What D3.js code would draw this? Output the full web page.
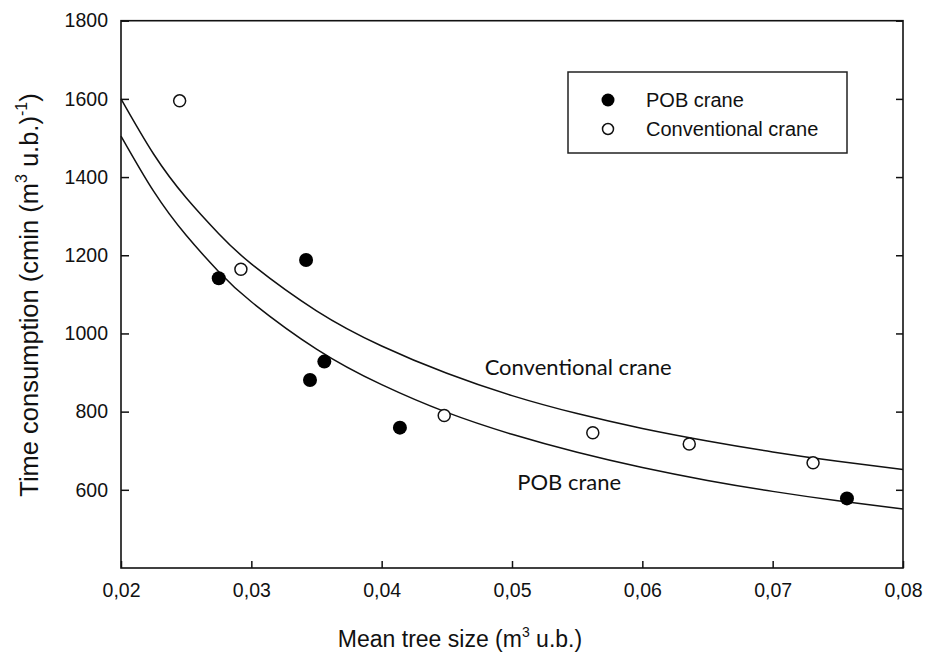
<!DOCTYPE html>
<html>
<head>
<meta charset="utf-8">
<script src="https://cdn.jsdelivr.net/npm/d3@7"></script>
<style>
body { margin: 0; background: #fff; }
text { font-family: "Liberation Sans", Arial, sans-serif; fill: #111; }
</style>
</head>
<body>
<div id="chart"></div>
<script>
var pobSize = [0.0275, 0.0342, 0.0345, 0.0356, 0.0414, 0.0757];
var pobTime = [1141, 1188, 881, 928, 759, 578];
var convSize = [0.0245, 0.0292, 0.0448, 0.0562, 0.0636, 0.0731];
var convTime = [1595, 1164, 790, 746, 717, 669];

// fitted curves, read at regular steps of tree size
var curveSize = [0.02, 0.0225, 0.025, 0.0275, 0.03, 0.035, 0.04, 0.045, 0.05, 0.055, 0.06, 0.065, 0.07, 0.075, 0.08];
var convCurve = [1600, 1459, 1347, 1255, 1178, 1058, 968, 898, 841, 795, 757, 725, 697, 673, 652];
var pobCurve  = [1505, 1364, 1251, 1158, 1081, 960, 869, 798, 742, 696, 657, 624, 596, 572, 551];

var xTicks = [0.02, 0.03, 0.04, 0.05, 0.06, 0.07, 0.08];
var yTicks = [600, 800, 1000, 1200, 1400, 1600, 1800];

var W = 927, H = 656;
var pLeft = 121, pRight = 903, pTop = 20.7, pBottom = 568;

var svg = d3.select("#chart").append("svg")
    .attr("width", W)
    .attr("height", H);

var x = d3.scaleLinear().domain([0.02, 0.08]).range([pLeft, pRight]);
var y = d3.scaleLinear().domain([400, 1800]).range([pBottom, pTop]);

var fmt = function (d) { return d3.format(".2f")(d).replace(".", ","); };

// axes, ticks pointing inward
var xAxis = svg.append("g")
    .attr("transform", "translate(0," + pBottom + ")")
    .call(d3.axisBottom(x).tickValues(xTicks).tickSizeInner(-7).tickSizeOuter(0).tickFormat(fmt));
var yAxis = svg.append("g")
    .attr("transform", "translate(" + pLeft + ",0)")
    .call(d3.axisLeft(y).tickValues(yTicks).tickSizeInner(-8).tickSizeOuter(0).tickPadding(13).tickFormat(d3.format("d")));
var yRight = svg.append("g")
    .attr("transform", "translate(" + pRight + ",0)")
    .call(d3.axisRight(y).tickValues(yTicks).tickSizeInner(-7).tickSizeOuter(0).tickFormat(""));

[xAxis, yAxis, yRight].forEach(function (g) {
    g.select(".domain").remove();
    g.selectAll("line").attr("stroke", "#111").attr("stroke-width", 1.5);
    g.selectAll("text").style("font-size", "19.5px").attr("fill", "#111");
});
xAxis.selectAll("text").attr("y", 15).attr("dy", "0.71em");

// frame
svg.append("rect")
    .attr("x", pLeft).attr("y", pTop)
    .attr("width", pRight - pLeft).attr("height", pBottom - pTop)
    .attr("fill", "none").attr("stroke", "#111").attr("stroke-width", 1.6);

// curves
var line = d3.line()
    .x(function (d) { return x(d[0]); })
    .y(function (d) { return y(d[1]); })
    .curve(d3.curveNatural);

svg.append("path")
    .datum(d3.zip(curveSize, convCurve))
    .attr("d", line)
    .attr("fill", "none").attr("stroke", "#111").attr("stroke-width", 1.5);
svg.append("path")
    .datum(d3.zip(curveSize, pobCurve))
    .attr("d", line)
    .attr("fill", "none").attr("stroke", "#111").attr("stroke-width", 1.5);

// points
svg.selectAll("circle.pob")
    .data(d3.zip(pobSize, pobTime))
    .enter().append("circle")
    .attr("class", "pob")
    .attr("cx", function (d) { return x(d[0]); })
    .attr("cy", function (d) { return y(d[1]); })
    .attr("r", 7)
    .attr("fill", "#000");

svg.selectAll("circle.conv")
    .data(d3.zip(convSize, convTime))
    .enter().append("circle")
    .attr("class", "conv")
    .attr("cx", function (d) { return x(d[0]); })
    .attr("cy", function (d) { return y(d[1]); })
    .attr("r", 6)
    .attr("fill", "#fff")
    .attr("stroke", "#111")
    .attr("stroke-width", 1.5);

// curve labels
svg.append("text")
    .attr("x", x(0.0479)).attr("y", y(894))
    .style("font-family", "Lato, 'Open Sans', sans-serif")
    .style("font-size", "22px")
    .text("Conventional crane");
svg.append("text")
    .attr("x", x(0.0504)).attr("y", y(600))
    .style("font-family", "Lato, 'Open Sans', sans-serif")
    .style("font-size", "22px")
    .text("POB crane");

// legend
var lg = svg.append("g");
lg.append("rect")
    .attr("x", 568).attr("y", 72)
    .attr("width", 279).attr("height", 81)
    .attr("fill", "#fff").attr("stroke", "#222").attr("stroke-width", 1.5);
lg.append("circle").attr("cx", 608).attr("cy", 100).attr("r", 6.5).attr("fill", "#000");
lg.append("circle").attr("cx", 608).attr("cy", 129).attr("r", 5.5)
    .attr("fill", "#fff").attr("stroke", "#111").attr("stroke-width", 1.5);
lg.append("text").attr("x", 646).attr("y", 107).style("font-size", "20px").text("POB crane");
lg.append("text").attr("x", 646).attr("y", 136).style("font-size", "20px").text("Conventional crane");

// axis titles
var xt = svg.append("text")
    .attr("x", 460).attr("y", 647)
    .attr("text-anchor", "middle")
    .style("font-size", "23px");
xt.append("tspan").text("Mean tree size (m");
xt.append("tspan").attr("dy", -10).style("font-size", "14px").text("3");
xt.append("tspan").attr("dy", 10).text(" u.b.)");

var yt = svg.append("text")
    .attr("transform", "translate(38,295) rotate(-90)")
    .attr("text-anchor", "middle")
    .style("font-size", "25.5px");
yt.append("tspan").text("Time consumption (cmin (m");
yt.append("tspan").attr("dy", -11).style("font-size", "16px").text("3");
yt.append("tspan").attr("dy", 11).text(" u.b.)");
yt.append("tspan").attr("dy", -11).style("font-size", "16px").text("-1");
yt.append("tspan").attr("dy", 11).text(")");
</script>
</body>
</html>
